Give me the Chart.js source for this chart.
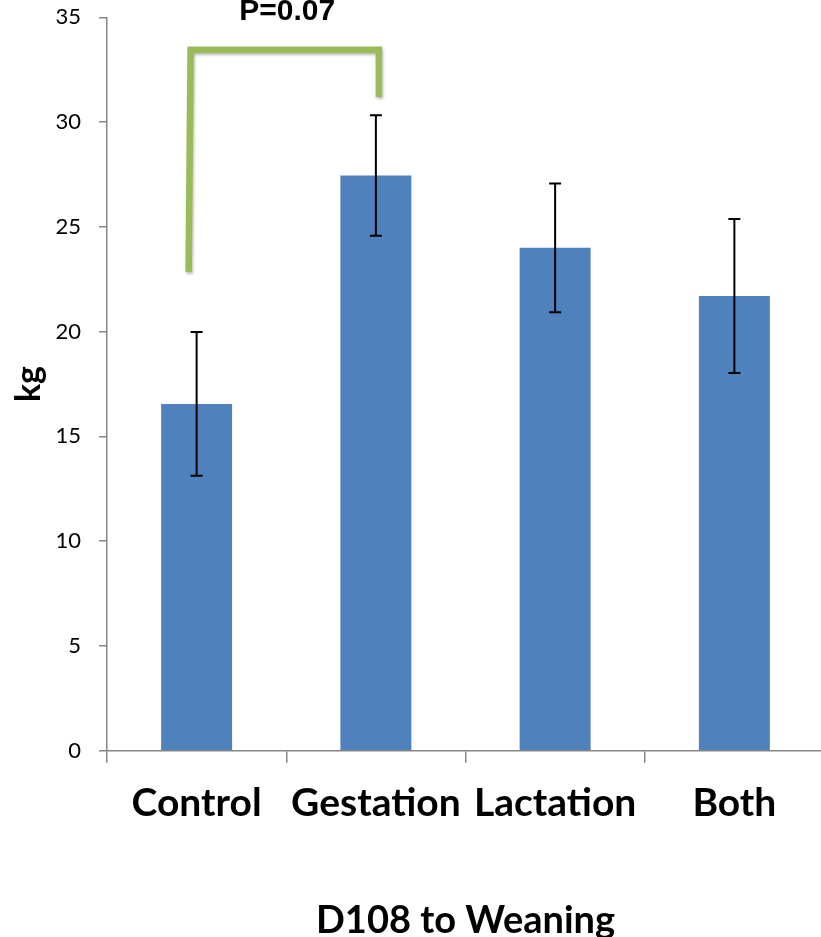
<!DOCTYPE html>
<html>
<head>
<meta charset="utf-8">
<script src="https://cdn.jsdelivr.net/npm/chart.js@4/dist/chart.umd.min.js"></script>
<style>
  html, body { margin: 0; padding: 0; background: #fff; overflow: hidden; }
  #wrap { position: relative; width: 821px; height: 937px; overflow: hidden; }
  canvas { position: absolute; left: 0; top: 0; }
</style>
</head>
<body>
<div id="wrap"><canvas id="c" width="830" height="960"></canvas></div>
<script>
// Weight gain, D108 to weaning (kg), mean ± error per treatment group
const categories = ['Control', 'Gestation', 'Lactation', 'Both'];
const means = [16.55, 27.45, 24.0, 21.7];
const errors = [3.43, 2.88, 3.07, 3.68];

// y axis range and tick step
const yMax = 35;
const yStep = 5;

// significance bracket between Control and Gestation
const bracketGroups = [0, 1];
const bracketLegEnds = [22.85, 31.2];
const bracketTop = 33.45;
const pLabel = 'P=0.07';
const pLabelValue = 34.87;

const axisGrey = '#868686';
const barBlue = '#4F81BD';
const bracketGreen = '#9BBB59';

const errorBarPlugin = {
  id: 'errorBars',
  afterDatasetsDraw(chart) {
    const ctx = chart.ctx;
    const y = chart.scales.y;
    const meta = chart.getDatasetMeta(0);
    ctx.save();
    ctx.strokeStyle = '#000';
    ctx.lineWidth = 2;
    meta.data.forEach((bar, i) => {
      const yt = y.getPixelForValue(means[i] + errors[i]);
      const yb = y.getPixelForValue(means[i] - errors[i]);
      ctx.beginPath();
      ctx.moveTo(bar.x, yt); ctx.lineTo(bar.x, yb);
      ctx.moveTo(bar.x - 6, yt); ctx.lineTo(bar.x + 6, yt);
      ctx.moveTo(bar.x - 6, yb); ctx.lineTo(bar.x + 6, yb);
      ctx.stroke();
    });
    ctx.restore();
  }
};

const bracketPlugin = {
  id: 'bracket',
  afterDraw(chart) {
    const ctx = chart.ctx;
    const x = chart.scales.x;
    const y = chart.scales.y;
    const xl = x.getPixelForValue(bracketGroups[0]) - 7;
    const xr = x.getPixelForValue(bracketGroups[1]) + 3;
    const yTop = y.getPixelForValue(bracketTop);
    ctx.save();
    ctx.shadowColor = 'rgba(0,0,0,0.28)';
    ctx.shadowBlur = 3;
    ctx.shadowOffsetX = 1;
    ctx.shadowOffsetY = 2;
    ctx.strokeStyle = bracketGreen;
    ctx.lineWidth = 6.5;
    ctx.lineJoin = 'miter';
    ctx.lineCap = 'butt';
    ctx.beginPath();
    ctx.moveTo(xl - 1, y.getPixelForValue(bracketLegEnds[0]));
    ctx.lineTo(xl + 1, yTop);
    ctx.lineTo(xr, yTop);
    ctx.lineTo(xr, y.getPixelForValue(bracketLegEnds[1]));
    ctx.stroke();
    ctx.restore();

    ctx.save();
    ctx.fillStyle = '#000';
    ctx.font = 'bold 30px "Liberation Sans", Arial, sans-serif';
    ctx.textAlign = 'center';
    ctx.textBaseline = 'alphabetic';
    ctx.fillText(pLabel, (xl + xr) / 2 + 3, y.getPixelForValue(pLabelValue));
    ctx.restore();
  }
};

new Chart(document.getElementById('c'), {
  type: 'bar',
  data: {
    labels: categories,
    datasets: [{
      data: means,
      backgroundColor: barBlue,
      borderWidth: 0,
      categoryPercentage: 1,
      barPercentage: 0.396
    }]
  },
  options: {
    responsive: false,
    devicePixelRatio: 1,
    animation: false,
    layout: { padding: { top: 17.3, right: 6, left: 0, bottom: 0 } },
    plugins: { legend: { display: false }, tooltip: { enabled: false } },
    scales: {
      x: {
        afterFit(scale) { scale.height = 960 - 750.7; },
        grid: { display: true, drawOnChartArea: false, drawTicks: true, tickLength: 12, color: axisGrey, lineWidth: 1.5, offset: true },
        border: { display: true, color: axisGrey, width: 1.5 },
        ticks: { color: '#000', padding: 17, font: { family: 'Lato', weight: 'bold', size: 39, lineHeight: 1.2 } },
        title: {
          display: true,
          text: 'D108 to Weaning',
          color: '#000',
          font: { family: 'Lato', weight: 'bold', size: 38, lineHeight: 1.2 },
          padding: { top: 0, bottom: 16.5 }
        }
      },
      y: {
        min: 0,
        max: yMax,
        afterFit(scale) {
          scale.width = 107;
          scale.paddingTop = 0;
          scale.paddingBottom = 0;
        },
        grid: { display: true, drawOnChartArea: false, drawTicks: true, tickLength: 8, color: axisGrey, lineWidth: 1.5 },
        border: { display: true, color: axisGrey, width: 1.5 },
        ticks: { stepSize: yStep, color: '#000', padding: 18, font: { family: 'Lato', size: 22, lineHeight: 1.2 } },
        title: {
          display: true,
          text: 'kg',
          color: '#000',
          font: { family: 'Lato', weight: 'bold', size: 34, lineHeight: 1.2 },
          padding: { top: 9, bottom: 0 }
        }
      }
    }
  },
  plugins: [errorBarPlugin, bracketPlugin]
});
</script>
</body>
</html>
